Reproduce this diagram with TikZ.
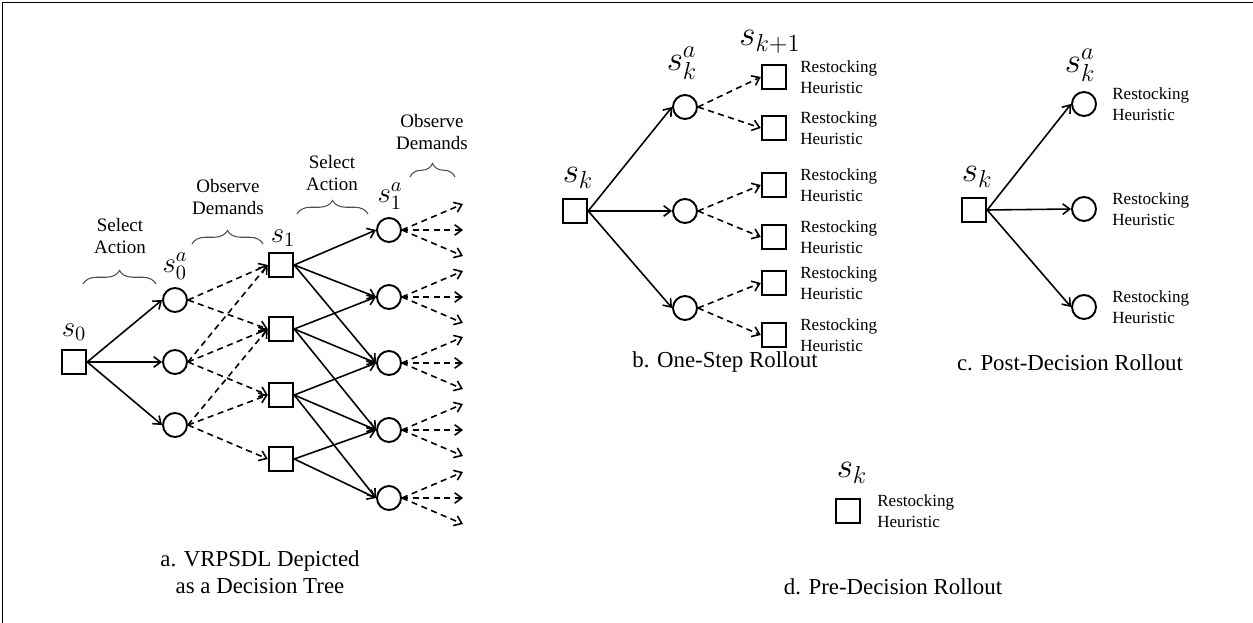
\documentclass[tikz,border=0pt]{standalone}
\usepackage{fix-cm}
\usepackage{fontspec}
\setmainfont{Liberation Serif}
\usetikzlibrary{arrows.meta,decorations.pathreplacing}

\begin{document}
\begin{tikzpicture}[x=0.2mm, y=-0.2mm,
  sq/.style={draw, line width=1.1pt, minimum size=4.9mm, inner sep=0pt},
  st/.style={draw, circle, line width=1.1pt, minimum size=4.8mm, inner sep=0pt},
  act/.style={-{Straight Barb[length=4pt,width=6pt]}, line width=0.9pt},
  obs/.style={act, dash pattern=on 3.5pt off 2.5pt},
  sa/.style={font=\fontsize{16.5}{18}\selectfont, inner sep=0pt},
  sb/.style={font=\fontsize{20}{22}\selectfont, inner sep=0pt},
  heur/.style={anchor=west, align=left, inner sep=0pt, font=\fontsize{9.7}{11.6}\selectfont},
  captext/.style={align=center, inner sep=0pt, font=\fontsize{13}{15.3}\selectfont},
  brc/.style={decorate, decoration={brace, amplitude=2.7mm, aspect=0.5}, line width=0.6pt, black!70},
  blab/.style={align=center, inner sep=0pt, font=\fontsize{10.8}{13}\selectfont}]
  \useasboundingbox (0,0) rectangle (1253,623);
  \draw[line width=1.1pt] (2.5,623) -- (2.5,2.5) -- (1253,2.5);

  % a. decision tree
  \node[sq] (s0) at (74,362) {};
  \node[st] (pa) at (175,300) {};
  \node[st] (pb) at (175,362) {};
  \node[st] (pc) at (175,425) {};
  \node[sq] (q1) at (281,265) {};
  \node[sq] (q2) at (281,329) {};
  \node[sq] (q3) at (281,395) {};
  \node[sq] (q4) at (281,459) {};
  \node[st] (r1) at (389,230) {};
  \node[st] (r2) at (389,297) {};
  \node[st] (r3) at (389,363) {};
  \node[st] (r4) at (389,430) {};
  \node[st] (r5) at (389,498) {};

  \node[sa] (s0lab) at (74,332) {$s_0$};
  \node[sa] (palab) at (175,266) {$s_0^a$};
  \node[sa] (q1lab) at (283,238) {$s_1$};
  \node[sa] (r1lab) at (390,196) {$s_1^a$};

  \foreach \p in {pa,pb,pc} \draw[act] (s0.east) -- (\p.west);
  \draw[obs] (pa.east) -- (q1.west);
  \draw[obs] (pa.east) -- (q2.west);
  \draw[obs] (pb.east) -- (q1.west);
  \draw[obs] (pb.east) -- (q2.west);
  \draw[obs] (pb.east) -- (q3.west);
  \draw[obs] (pc.east) -- (q2.west);
  \draw[obs] (pc.east) -- (q3.west);
  \draw[obs] (pc.east) -- (q4.west);
  \foreach \q/\r in {q1/r1,q1/r2,q1/r3,q2/r2,q2/r3,q2/r4,q3/r3,q3/r4,q3/r5,q4/r4,q4/r5}
    \draw[act] (\q.east) -- (\r.west);
  \foreach \r in {r1,r2,r3,r4,r5}
    \foreach \d [count=\i] in {-26,0,26} {
      \path (\r) ++(74,\d) coordinate (\r-\i);
      \draw[obs] (\r.east) -- (\r-\i);
    }

  \draw[brc] (83,284) -- (156,284);
  \node[blab] (ba1) at (120,236) {Select\\Action};
  \draw[brc] (192,244) -- (263,244);
  \node[blab] (ba2) at (228,197) {Observe\\Demands};
  \draw[brc] (297,214) -- (368,214);
  \node[blab] (ba3) at (332,173) {Select\\Action};
  \draw[brc] (410,177) -- (455,177);
  \node[blab] (ba4) at (432,132) {Observe\\Demands};

  \node[captext] (capa) at (260,572) {a. VRPSDL Depicted\\as a Decision Tree};

  % b. one-step rollout
  \node[sq] (bsk) at (575,211) {};
  \node[st] (bpa) at (685,107) {};
  \node[st] (bpb) at (685,211) {};
  \node[st] (bpc) at (685,308) {};
  \node[sb] (bsklab) at (578,178) {$s_k$};
  \node[sb] (bpalab) at (682,63) {$s_k^a$};
  \node[sb] (bnlab) at (770,42) {$s_{k+1}$};
  \foreach \y [count=\i] in {77,128,185,237,283,335} {
    \node[sq] (bn\i) at (774,\y) {};
    \node[heur] (bh\i) at (800,\y) {Restocking\\Heuristic};
  }
  \foreach \p in {bpa,bpb,bpc} \draw[act] (bsk.east) -- (\p.west);
  \draw[obs] (bpa.east) -- (bn1.west);
  \draw[obs] (bpa.east) -- (bn2.west);
  \draw[obs] (bpb.east) -- (bn3.west);
  \draw[obs] (bpb.east) -- (bn4.west);
  \draw[obs] (bpc.east) -- (bn5.west);
  \draw[obs] (bpc.east) -- (bn6.west);
  \node[captext] (capb) at (725,362) {b. One-Step Rollout};

  % c. post-decision rollout
  \node[sq] (csk) at (974,210) {};
  \node[sb] (csklab) at (977,177) {$s_k$};
  \node[sb] (cpalab) at (1080,65) {$s_k^a$};
  \foreach \y [count=\i] in {104,209,307} {
    \node[st] (cp\i) at (1084,\y) {};
    \node[heur] (ch\i) at (1112,\y) {Restocking\\Heuristic};
    \draw[act] (csk.east) -- (cp\i.west);
  }
  \node[captext] (capc) at (1070,363) {c. Post-Decision Rollout};

  % d. pre-decision rollout
  \node[sq] (dsk) at (848,511) {};
  \node[sb] (dsklab) at (852,473) {$s_k$};
  \node[heur] (dh) at (877,511) {Restocking\\Heuristic};
  \node[captext] (capd) at (893,587) {d. Pre-Decision Rollout};
\end{tikzpicture}
\end{document}
